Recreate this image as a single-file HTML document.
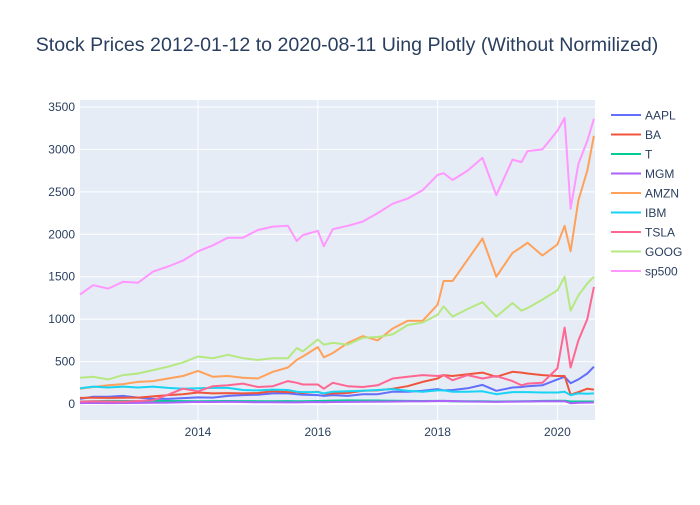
<!DOCTYPE html>
<html><head><meta charset="utf-8"><style>
body{margin:0;background:#fff;font-family:"Liberation Sans",Arial,sans-serif}
svg text{font-family:"Liberation Sans",Arial,sans-serif;fill:#2a3f5f}
</style></head><body>
<svg id="chart" width="700" height="500" xmlns="http://www.w3.org/2000/svg">
<rect width="700" height="500" fill="#fff"/>
<text x="347" y="51" font-size="19.6" text-anchor="middle">Stock Prices 2012-01-12 to 2020-08-11 Uing Plotly (Without Normilized)</text>
<rect x="80" y="100" width="515" height="320" fill="#E5ECF6"/>
<g id="grid"></g><g id="series"></g><g id="legend"></g>
</svg>
<script>
const dates=[2012.03,2012.25,2012.5,2012.75,2013.0,2013.25,2013.5,2013.75,2014.0,2014.25,2014.5,2014.75,2015.0,2015.25,2015.5,2015.65,2015.75,2016.0,2016.1,2016.25,2016.5,2016.75,2017.0,2017.25,2017.5,2017.75,2018.0,2018.1,2018.25,2018.5,2018.75,2018.98,2019.25,2019.4,2019.5,2019.75,2020.0,2020.12,2020.22,2020.35,2020.5,2020.61];
const seriesNames=["AAPL","BA","T","MGM","AMZN","IBM","TSLA","GOOG","sp500"];
const AAPL=[60,85,85,95,75,60,60,70,78,75,95,105,110,125,125,115,110,105,96,105,95,115,116,145,145,155,175,160,165,185,225,155,195,200,210,220,290,320,245,290,360,440];
const BA=[72,73,72,74,76,90,105,115,135,125,128,125,130,150,140,140,130,145,120,125,130,155,160,180,210,260,300,340,330,350,370,320,380,370,360,340,330,330,110,140,180,170];
const T=[30,32,36,35,34,37,35,34,33,34,35,34,33,33,34,33,33,35,36,40,43,41,41,38,37,35,36,37,33,32,32,30,31,33,33,37,39,38,30,30,30,30];
const MGM=[11,13,11,12,13,15,16,20,25,24,26,23,20,21,19,19,20,24,20,24,25,26,28,30,32,33,35,36,35,30,28,25,28,29,31,32,33,33,10,15,17,18];
const AMZN=[180,200,220,235,260,270,300,330,390,320,330,310,300,380,430,520,560,670,550,600,720,800,750,890,980,980,1170,1450,1450,1700,1950,1500,1780,1850,1900,1750,1880,2100,1800,2400,2750,3160];
const IBM=[185,205,195,205,195,205,190,180,185,190,190,165,160,170,165,145,140,140,125,145,150,155,165,175,155,145,160,160,145,145,150,115,140,140,140,135,135,145,105,125,120,125];
const TSLA=[28,33,30,28,35,45,110,180,150,210,220,240,200,210,270,250,230,230,180,250,210,200,220,300,320,340,330,340,280,340,300,330,270,220,240,250,420,900,430,750,1000,1380];
const GOOG=[310,320,290,340,360,400,440,490,560,540,580,540,520,540,540,660,620,760,700,720,700,780,790,820,930,960,1050,1150,1030,1120,1200,1030,1190,1100,1130,1230,1340,1500,1100,1280,1420,1500];
const sp500=[1290,1400,1360,1440,1430,1560,1620,1690,1800,1870,1960,1960,2050,2090,2100,1920,1990,2040,1860,2060,2100,2150,2250,2360,2420,2520,2700,2720,2640,2750,2900,2460,2880,2850,2980,3000,3220,3370,2300,2830,3100,3360];
const colors=["#636efa","#EF553B","#00cc96","#ab63fa","#FFA15A","#19d3f3","#FF6692","#B6E880","#FF97FF"];
const yTicks=[0,500,1000,1500,2000,2500,3000,3500];
const xTicks=[2014,2016,2018,2020];
const seriesData=[AAPL,BA,T,MGM,AMZN,IBM,TSLA,GOOG,sp500];
const NS="http://www.w3.org/2000/svg";
function xs(d){return 198+(d-2014)*59.9;}
function ys(v){return 404-v*0.08486;}
function mk(tag,attrs,parent){const e=document.createElementNS(NS,tag);for(const k in attrs)e.setAttribute(k,attrs[k]);parent.appendChild(e);return e;}
const grid=document.getElementById('grid');
yTicks.forEach(v=>{
  const l=mk('line',{x1:80,x2:595,y1:ys(v),y2:ys(v),stroke:'#fff','stroke-width':v===0?2:1},grid);
  
  
  const t=mk('text',{x:75,y:ys(v)+4,'font-size':12,'text-anchor':'end'},grid);
  t.textContent=String(v);
  
  
});
xTicks.forEach(v=>{
  const l=mk('line',{x1:xs(v),x2:xs(v),y1:100,y2:420,stroke:'#fff','stroke-width':1},grid);
  
  
  const t=mk('text',{x:xs(v),y:436,'font-size':12,'text-anchor':'middle'},grid);
  t.textContent=String(v);
  
  
});
const sg=document.getElementById('series'),lg=document.getElementById('legend');
seriesData.forEach((arr,i)=>{
  const pts=arr.map((v,j)=>xs(dates[j]).toFixed(1)+','+ys(v).toFixed(1)).join(' ');
  const p=mk('polyline',{points:pts,fill:'none',stroke:colors[i],'stroke-width':2,'stroke-linejoin':'round'},sg);
  
  
  const y=115+i*19.5;
  const g=mk('g',{},lg);
  
  
  mk('line',{x1:611,x2:641,y1:y,y2:y,stroke:colors[i],'stroke-width':2},g);
  const t=mk('text',{x:645,y:y+4.5,'font-size':12},g);
  t.textContent=seriesNames[i];
});
</script>
</body></html>
